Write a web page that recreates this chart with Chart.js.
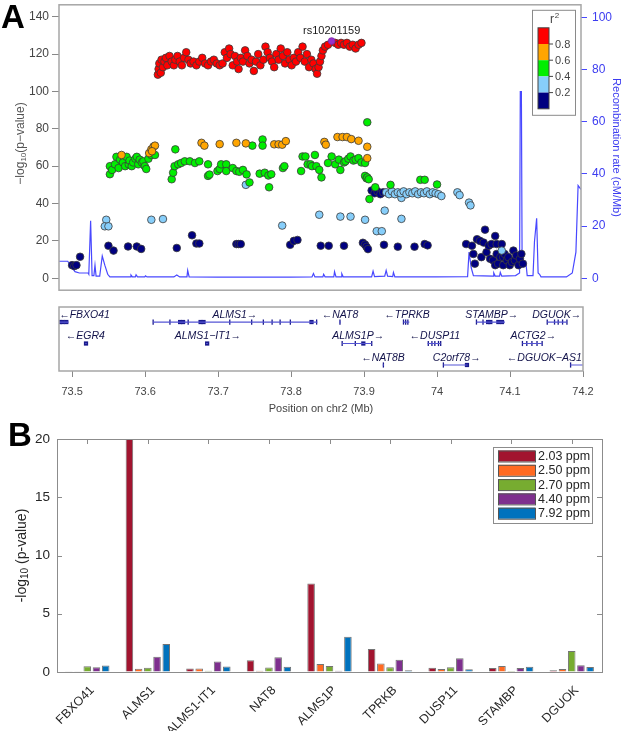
<!DOCTYPE html>
<html>
<head>
<meta charset="utf-8">
<script src="https://cdn.jsdelivr.net/npm/chart.js@4.4.0/dist/chart.umd.min.js"></script>
<style>
  body { margin: 0; background: #fff; width: 625px; height: 731px; position: relative; overflow: hidden;
         font-family: "Liberation Sans", Arial, sans-serif; }
  canvas { position: absolute; left: 0; }
  #chartA { top: 0; }
  #chartGenes { top: 300px; }
  #chartB { top: 420px; }
  .panel { position: absolute; font-weight: bold; font-size: 33px; line-height: 33px; color: #000; }
</style>
</head>
<body>
<canvas id="chartA" width="625" height="295"></canvas>
<canvas id="chartGenes" width="625" height="120"></canvas>
<canvas id="chartB" width="625" height="311"></canvas>
<div class="panel" style="left:1px;top:0px">A</div>
<div class="panel" style="left:8px;top:418px">B</div>
<script>
// ---------- Panel A: regional association ----------
const leftTicks = [0, 20, 40, 60, 80, 100, 120, 140];
const rightTicks = [0, 20, 40, 60, 80, 100];
const posTicks = [73.5, 73.6, 73.7, 73.8, 73.9, 74.0, 74.1, 74.2];

// [position (Mb), -log10 p] per r2 class
const snpNavy = [
  [73.500,7],[73.503,6.5],[73.506,7],[73.511,11.5],[73.550,17.4],[73.557,14.8],[73.577,17],[73.589,17],
  [73.595,15.7],[73.644,16.2],[73.665,23],[73.671,18.6],[73.675,18.6],[73.726,18.3],[73.729,18.3],
  [73.732,18.3],[73.800,17.9],[73.805,20],[73.810,20.5],[73.842,17.4],[73.853,17.4],[73.874,17.4],
  [73.900,19],[73.903,18],[73.905,16.8],[73.907,15.6],[73.929,17.9],[73.948,16.9],[73.971,16.9],
  [73.985,18.3],[73.989,17.6],
  [73.912,47],[73.916,45.5],[73.920,46.5],[73.924,45],[73.928,46],
  [74.042,18.3],[74.050,17.4],[74.052,13],[74.054,7.8],[74.057,20.9],[74.061,20],[74.063,11.3],
  [74.066,19.1],[74.068,26],[74.070,13.9],[74.073,17.4],[74.075,10.4],[74.077,18.3],[74.079,9.6],
  [74.082,22.6],[74.082,7],[74.084,13],[74.084,18.3],[74.086,7.8],[74.089,11.3],[74.091,18.3],
  [74.093,7],[74.093,11.3],[74.095,13],[74.098,9.6],[74.100,11.3],[74.102,7],[74.105,8.7],
  [74.107,14.8],[74.109,9.6],[74.111,12.2],[74.114,7],[74.116,10.4],[74.118,13],[74.120,7.8]
];
const snpLightBlue = [
  [73.547,31.3],[73.545,27.8],[73.550,27.8],[73.609,31.3],[73.625,31.7],[73.739,50],[73.789,28.2],
  [73.840,34],[73.869,33],[73.883,33],[73.903,31.3],[73.919,25.2],[73.926,25.2],[73.930,36.2],
  [73.953,31.8],[73.953,43],
  [73.932,46],[73.936,45],[73.940,46.5],[73.944,45],[73.948,46],[73.952,45.5],[73.956,46.5],
  [73.960,45],[73.964,46],[73.968,45.5],[73.972,46.5],[73.976,45],[73.980,46],[73.984,45.5],
  [73.988,46.5],[73.992,45],[73.996,46],[74.000,45.5],[74.004,45],[74.008,44],[74.030,46],
  [74.033,44.5],[74.046,40.5],[74.048,39],[74.091,14.8]
];
const snpGreen = [
  [73.552,55.7],[73.552,60],[73.555,58],[73.559,61],[73.561,65],[73.564,59],[73.566,63.5],[73.570,62],
  [73.573,60],[73.575,65],[73.578,61],[73.579,63],[73.582,60],[73.584,62],[73.587,64],[73.589,65],
  [73.591,61],[73.593,63.5],[73.596,62],[73.598,62.6],[73.600,60],[73.602,58.5],[73.605,64],
  [73.609,66],[73.614,66],
  [73.642,69],[73.637,53],[73.639,56.5],[73.641,60],[73.646,61],[73.650,61.7],[73.655,62.6],
  [73.662,62.6],[73.669,61.7],[73.675,62.6],[73.687,61],[73.687,54.8],[73.689,55.5],[73.700,57.4],
  [73.703,58.5],[73.705,61],[73.712,61],[73.712,57.4],[73.721,59],[73.726,57.4],[73.730,57],
  [73.735,58],[73.740,55.6],[73.744,51.3],[73.748,71],[73.762,74.3],[73.762,71],[73.758,56],
  [73.765,56.5],[73.770,55],[73.774,55.7],[73.771,48.7],[73.790,59],[73.792,60],[73.815,57.4],
  [73.817,65.2],[73.821,65.2],[73.824,61],[73.828,61],[73.830,60],[73.834,66],[73.836,60],
  [73.840,58],[73.843,54],[73.852,61.7],[73.857,65.2],[73.862,61],[73.867,63.5],[73.869,58],
  [73.874,62],[73.876,62.6],[73.880,64],[73.883,65.2],[73.887,63],[73.890,63.5],[73.894,64.3],
  [73.898,62],[73.903,61.7],[73.906,83.5],[73.903,54.8],[73.905,53.5],[73.906,54],[73.908,53],
  [73.917,48.7],[73.909,42.4],[73.938,50],[73.979,52.7],[73.985,52.7],[74.002,50.2]
];
const snpOrange = [
  [73.568,66],[73.606,67],[73.609,69],[73.612,70.5],[73.614,71],[73.610,68],[73.678,72.5],
  [73.682,71],[73.703,71.8],[73.726,72.5],[73.739,72.2],[73.778,71.7],[73.784,71.7],[73.789,71.5],
  [73.794,73.4],[73.847,73],[73.849,71.5],[73.865,75.6],[73.872,75.6],[73.878,75.6],[73.884,74.5],
  [73.894,73.6],[73.906,70.4],[73.906,64.3]
];
const snpRed = [
  [73.618,109],[73.619,112],[73.620,115],[73.622,110],[73.623,117],[73.625,113],[73.627,116],
  [73.629,118],[73.631,114],[73.634,119],[73.637,116],[73.640,114],[73.642,117],[73.645,119],
  [73.648,116],[73.651,114],[73.654,118],[73.657,121],[73.660,117],[73.663,115],[73.667,116],
  [73.671,114],[73.675,116],[73.679,118],[73.683,115],[73.687,114],[73.691,116],[73.695,117],
  [73.699,115],[73.703,114],[73.707,115],[73.710,121],[73.713,118],[73.716,123],[73.718,120],
  [73.721,114],[73.724,119],[73.727,116],[73.729,112],[73.732,118],[73.735,116],[73.738,122],
  [73.741,119],[73.744,115],[73.747,117],[73.750,111],[73.753,116],[73.756,120],[73.759,114],
  [73.763,117],[73.766,124],[73.769,121],[73.772,118],[73.775,116],[73.778,113],[73.781,120],
  [73.784,117],[73.787,123],[73.790,119],[73.793,115],[73.796,121],[73.799,117],[73.802,114],
  [73.805,118],[73.808,116],[73.811,121],[73.814,118],[73.817,124],[73.820,116],[73.823,120],
  [73.826,113],[73.829,117],[73.832,115],[73.835,112],[73.837,109.5],[73.839,113],[73.841,116],
  [73.843,119],[73.845,122],[73.848,124],[73.852,125],[73.862,126],[73.866,125],[73.870,126],
  [73.874,125],[73.878,126],[73.882,124],[73.886,125],[73.890,123],[73.894,125],[73.898,126]
];
const leadSnp = [73.857, 127];
const leadName = "rs10201159";

// recombination rate (cM/Mb)
const recPos = [73.482,73.494,73.500,73.504,73.510,73.522,73.523,73.5255,73.5275,73.530,73.5315,73.533,
  73.538,73.5415,73.545,73.549,73.552,73.580,73.581,73.583,73.587,73.588,73.590,73.600,73.601,73.603,
  73.640,73.644,73.648,73.658,73.659,73.661,73.700,73.760,73.800,73.830,73.832,73.834,73.845,73.846,
  73.848,73.860,73.861,73.863,73.870,73.871,73.873,73.912,73.914,73.916,73.930,73.932,73.934,73.941,
  73.942,73.944,74.000,74.044,74.046,74.049,74.052,74.079,74.080,74.082,74.088,74.089,74.091,74.110,
  74.1155,74.1165,74.118,74.119,74.124,74.126,74.134,74.136,74.139,74.141,74.143,74.145,74.180,74.188,
  74.193,74.196,74.2];
const recRate = [6.5,6.5,4,2.5,2,2,1.5,22,1,1,5,0.8,
  0.8,8.5,5,1.5,0.5,0.5,1.2,0.5,0.5,1.3,0.5,0.5,0.9,0.5,
  0.5,1.2,0.5,0.5,3,0.5,0.4,0.4,0.4,0.5,1.8,0.5,0.5,1.5,
  0.5,0.5,2.5,0.5,0.5,1.7,0.5,0.5,2.7,0.6,0.8,3,0.8,0.6,
  2.2,0.5,0.5,0.6,10,4,1,0.8,2,0.8,0.8,2.2,0.8,1,
  2,71.5,71.5,6.5,6.5,1,1,14,23,2,1.5,0.5,0.5,2,
  10,35.5,34];

const r2Colors = ["#000080", "#87CEFA", "#00EE00", "#FFA500", "#FF0000"];
const r2Labels = ["0.2", "0.4", "0.6", "0.8"];

// ---------- gene track ----------
const geneNames = ["FBXO41","ALMS1","NAT8","TPRKB","STAMBP","DGUOK","EGR4","ALMS1\u2212IT1","ALMS1P",
  "DUSP11","ACTG2","NAT8B","C2orf78","DGUOK\u2212AS1"];
const geneStrand = [-1,1,-1,-1,1,1,-1,1,1,-1,1,-1,1,-1];
const geneRow = [1,1,1,1,1,1,2,2,2,2,2,3,3,3];
const geneStart = [73.481,73.611,73.866,73.954,74.054,74.151,73.518,73.6835,73.870,73.987,74.117,73.9256,74.0087,74.1826];
const geneEnd = [73.495,73.836,73.868,73.962,74.093,74.178,73.520,73.686,73.9105,74.005,74.144,73.9274,74.042,74.2];
const geneLabelX = [73.517,73.723,73.867,73.959,74.075,74.164,73.518,73.686,73.892,73.997,74.132,73.926,74.027,74.147];
const exonThin = [[73.611,1],[73.634,1],[73.659,1],[73.716,1],[73.746,1],[73.762,1],[73.774,1],[73.785,1],
  [73.799,1],[73.835,1],[73.867,1],[73.954,1],[73.957,1],[73.960,1],[74.054,1],[74.063,1],[74.151,1],
  [74.161,1],[74.166,1],[74.172,1],[74.178,1],[73.870,2],[73.888,2],[73.9105,2],[73.988,2],[73.993,2],
  [73.997,2],[74.002,2],[74.005,2],[74.117,2],[74.123,2],[74.130,2],[74.137,2],[74.144,2],[73.9265,3],
  [74.0087,3],[74.183,3]];
const exonThick = [[73.483,1],[73.487,1],[73.492,1],[73.648,1],[73.652,1],[73.676,1],[73.680,1],[73.828,1],
  [74.070,1],[74.073,1],[74.084,1],[74.089,1],[73.519,2],[73.685,2],[73.899,2],[74.041,3]];

// ---------- Panel B: bar chart ----------
const genesB = ["FBXO41","ALMS1","ALMS1-IT1","NAT8","ALMS1P","TPRKB","DUSP11","STAMBP","DGUOK"];
const ppmLabels = ["2.03 ppm","2.50 ppm","2.70 ppm","4.40 ppm","7.92 ppm"];
const ppmColors = ["#A2142F","#FF6A22","#77AC30","#7E2F8E","#0072BD"];
const p203 = [0.06, 20, 0.3, 1.0, 7.6, 1.97, 0.37, 0.34, 0.14];
const p250 = [0.03, 0.28, 0.3, 0.1, 0.69, 0.74, 0.26, 0.51, 0.26];
const p270 = [0.5, 0.36, 0.1, 0.38, 0.51, 0.4, 0.4, 0.09, 1.8];
const p440 = [0.4, 1.31, 0.91, 1.26, 0.1, 1.06, 1.17, 0.34, 0.57];
const p792 = [0.56, 2.4, 0.47, 0.45, 3.03, 0.14, 0.23, 0.46, 0.43];

const FONT = "'Liberation Sans', Arial, sans-serif";
const toXY = arr => arr.map(p => ({ x: p[0], y: p[1] }));

function drawSubTitle(ctx, x, y, size, color, pre, sub, post) {
  ctx.save();
  ctx.fillStyle = color;
  ctx.textBaseline = "middle";
  const f1 = size + "px " + FONT, f2 = Math.round(size * 0.7) + "px " + FONT;
  ctx.font = f1; const w1 = ctx.measureText(pre).width, w3 = ctx.measureText(post).width;
  ctx.font = f2; const w2 = ctx.measureText(sub).width;
  const total = w1 + w2 + w3;
  ctx.translate(x, y);
  ctx.rotate(-Math.PI / 2);
  let cx = -total / 2;
  ctx.font = f1; ctx.textAlign = "left"; ctx.fillText(pre, cx, 0); cx += w1;
  ctx.font = f2; ctx.fillText(sub, cx, size * 0.25); cx += w2;
  ctx.font = f1; ctx.fillText(post, cx, 0);
  ctx.restore();
}

const panelAPlugin = {
  id: "panelA",
  afterDraw(chart) {
    const { ctx, chartArea: a, scales: { x, y } } = chart;
    ctx.save();
    ctx.strokeStyle = "#a6a6a6"; ctx.lineWidth = 1.5;
    ctx.strokeRect(a.left, a.top, a.right - a.left, a.bottom - a.top);
    // lead SNP label
    ctx.fillStyle = "#1a1a1a"; ctx.font = "11px " + FONT; ctx.textAlign = "center"; ctx.textBaseline = "bottom";
    ctx.fillText(leadName, x.getPixelForValue(leadSnp[0]), y.getPixelForValue(leadSnp[1]) - 5);
    // r2 legend
    const bx = a.right - 49, by = a.top + 5, bw = 43, bh = 105;
    ctx.fillStyle = "#fff"; ctx.fillRect(bx, by, bw, bh);
    ctx.strokeStyle = "#8a8a8a"; ctx.lineWidth = 1; ctx.strokeRect(bx + 0.5, by + 0.5, bw, bh);
    const sx = bx + 6, sy = by + 18, sw = 11, sh = 16.2;
    for (let i = 0; i < 5; i++) {
      ctx.fillStyle = r2Colors[4 - i];
      ctx.fillRect(sx, sy + i * sh, sw, sh);
    }
    ctx.strokeStyle = "#444"; ctx.strokeRect(sx, sy, sw, sh * 5);
    ctx.fillStyle = "#444"; ctx.font = "11px " + FONT; ctx.textAlign = "left"; ctx.textBaseline = "middle";
    for (let i = 0; i < 4; i++) {
      const ty = sy + (i + 1) * sh;
      ctx.beginPath(); ctx.moveTo(sx + sw, ty); ctx.lineTo(sx + sw + 4, ty); ctx.stroke();
      ctx.fillText(r2Labels[3 - i], sx + sw + 6, ty + 0.5);
    }
    ctx.font = "12px " + FONT; ctx.textAlign = "center";
    ctx.fillText("r", bx + 20, by + 10);
    ctx.font = "8px " + FONT; ctx.fillText("2", bx + 25, by + 6);
    ctx.restore();
    drawSubTitle(ctx, 21, (a.top + a.bottom) / 2 - 4, 12, "#555", "\u2212log", "10", "(p\u2212value)");
  }
};

const scatterSet = (data, color, order) => ({
  data: toXY(data), backgroundColor: color, borderColor: "#3a3a3a", borderWidth: 0.8,
  pointRadius: 3.8, order: order, yAxisID: "y"
});

new Chart(document.getElementById("chartA"), {
  type: "scatter",
  data: {
    datasets: [
      { type: "line", data: recPos.map((p, i) => ({ x: p, y: recRate[i] })), yAxisID: "y2",
        borderColor: "#4848ff", borderWidth: 1.2, pointRadius: 0, tension: 0, order: 10 },
      scatterSet(snpNavy, r2Colors[0], 6),
      scatterSet(snpLightBlue, r2Colors[1], 5),
      scatterSet(snpGreen, r2Colors[2], 4),
      scatterSet(snpOrange, r2Colors[3], 3),
      scatterSet(snpRed, r2Colors[4], 2),
      { data: [{ x: leadSnp[0], y: leadSnp[1] }], backgroundColor: "#9932CC", borderColor: "#7a28a8",
        borderWidth: 0.8, pointRadius: 3.4, order: 1, yAxisID: "y" }
    ]
  },
  options: {
    responsive: false, animation: false, events: [],
    layout: { padding: { top: 1, bottom: 1 } },
    plugins: { legend: { display: false }, tooltip: { enabled: false } },
    scales: {
      x: { type: "linear", min: 73.482, max: 74.2, display: false },
      y: {
        position: "left", min: -6.4, max: 146.4,
        afterBuildTicks: s => { s.ticks = leftTicks.map(v => ({ value: v })); },
        afterFit: s => { s.width = 59; s.paddingTop = 0; s.paddingBottom = 0; },
        grid: { drawOnChartArea: false, tickLength: 7, color: "#888" },
        border: { display: false },
        ticks: { color: "#444", font: { size: 12, family: FONT }, padding: 3 }
      },
      y2: {
        position: "right", min: -4.6, max: 104.8,
        afterBuildTicks: s => { s.ticks = rightTicks.map(v => ({ value: v })); },
        afterFit: s => { s.width = 44; s.paddingTop = 0; s.paddingBottom = 0; },
        grid: { drawOnChartArea: false, tickLength: 6, color: "#4848ff", offset: false },
        border: { display: false },
        ticks: { color: "#3c3cf0", font: { size: 12, family: FONT }, padding: 5 },
        title: { display: true, text: "Recombination rate (cM/Mb)", color: "#3c3cf0",
                 font: { size: 11, family: FONT }, padding: 2 }
      }
    }
  },
  plugins: [panelAPlugin]
});

// ---------- gene track chart ----------
const geneLine = [];
geneStart.forEach((s, i) => {
  geneLine.push({ x: s, y: geneRow[i] }, { x: geneEnd[i], y: geneRow[i] }, { x: geneEnd[i], y: null });
});

const genePlugin = {
  id: "genes",
  afterDraw(chart) {
    const { ctx, chartArea: a, scales: { x, y } } = chart;
    ctx.save();
    ctx.strokeStyle = "#a6a6a6"; ctx.lineWidth = 1.5;
    ctx.strokeRect(a.left, a.top, a.right - a.left, a.bottom - a.top);
    ctx.fillStyle = "#12124a"; ctx.font = "italic 10.5px " + FONT;
    ctx.textAlign = "center"; ctx.textBaseline = "middle";
    geneNames.forEach((n, i) => {
      const t = geneStrand[i] < 0 ? "\u2190" + n : n + "\u2192";
      ctx.fillText(t, x.getPixelForValue(geneLabelX[i]), y.getPixelForValue(geneRow[i]) - 7);
    });
    ctx.restore();
  }
};

new Chart(document.getElementById("chartGenes"), {
  type: "scatter",
  data: {
    datasets: [
      { type: "line", data: geneLine, borderColor: "#5555d5", borderWidth: 1.2, pointRadius: 0, spanGaps: false },
      { data: toXY(exonThin), pointStyle: "line", rotation: 90, pointRadius: 2.6,
        borderColor: "#1a1a8c", borderWidth: 1.3 },
      { data: toXY(exonThick), pointStyle: "rect", pointRadius: 3, backgroundColor: "#1a1a8c", borderWidth: 0 }
    ]
  },
  options: {
    responsive: false, animation: false, events: [],
    layout: { padding: { top: 7, left: 59, right: 42, bottom: 0 } },
    plugins: { legend: { display: false }, tooltip: { enabled: false } },
    scales: {
      y: { display: false, min: 0.3, max: 3.28, reverse: true },
      x: {
        type: "linear", min: 73.482, max: 74.2,
        afterBuildTicks: s => { s.ticks = posTicks.map(v => ({ value: v })); },
        afterFit: s => { s.height = 49; s.paddingLeft = 0; s.paddingRight = 0; },
        grid: { drawOnChartArea: false, tickLength: 6, color: "#888" },
        border: { display: false },
        ticks: { color: "#444", font: { size: 11, family: FONT }, padding: 8,
                 callback: v => String(Math.round(v * 10) / 10) },
        title: { display: true, text: "Position on chr2 (Mb)", color: "#444",
                 font: { size: 11, family: FONT }, padding: { top: 2, bottom: 4 } }
      }
    }
  },
  plugins: [genePlugin]
});

// ---------- Panel B ----------
const panelBPlugin = {
  id: "panelB",
  afterDraw(chart) {
    const { ctx, chartArea: a, scales: { x, y } } = chart;
    ctx.save();
    ctx.strokeStyle = "#8c8c8c"; ctx.lineWidth = 1;
    ctx.strokeRect(a.left + 0.5, a.top + 0.5, a.right - a.left, a.bottom - a.top);
    ctx.beginPath();
    y.ticks.forEach(t => {
      const py = Math.round(y.getPixelForValue(t.value)) + 0.5;
      ctx.moveTo(a.left, py); ctx.lineTo(a.left + 5, py);
      ctx.moveTo(a.right - 5, py); ctx.lineTo(a.right, py);
    });
    x.ticks.forEach((t, i) => {
      const px = Math.round(x.getPixelForTick(i)) + 0.5;
      ctx.moveTo(px, a.top); ctx.lineTo(px, a.top + 5);
    });
    ctx.stroke();
    // legend
    const bw = 99, bh = 76, bx = a.right - 10 - bw, by = a.top + 8;
    ctx.fillStyle = "#fff"; ctx.fillRect(bx, by, bw, bh);
    ctx.strokeStyle = "#8c8c8c"; ctx.strokeRect(bx + 0.5, by + 0.5, bw, bh);
    ctx.font = "12.5px " + FONT; ctx.textBaseline = "middle"; ctx.textAlign = "left";
    ppmLabels.forEach((l, i) => {
      const cy = by + 9 + i * 14.3;
      ctx.fillStyle = ppmColors[i]; ctx.fillRect(bx + 5, cy - 5.5, 37, 11);
      ctx.strokeStyle = "#555"; ctx.strokeRect(bx + 5.5, cy - 5, 37, 11);
      ctx.fillStyle = "#262626"; ctx.fillText(l, bx + 45, cy + 0.5);
    });
    ctx.restore();
    drawSubTitle(ctx, 22, (a.top + a.bottom) / 2, 14, "#262626", "-log", "10", " (p-value)");
  }
};

const barValues = [p203, p250, p270, p440, p792];
new Chart(document.getElementById("chartB"), {
  type: "bar",
  data: {
    labels: genesB,
    datasets: barValues.map((vals, i) => ({
      label: ppmLabels[i], data: vals, backgroundColor: ppmColors[i],
      borderColor: "rgba(70,70,70,0.75)", borderWidth: 1, barPercentage: 0.82, categoryPercentage: 0.76
    }))
  },
  options: {
    responsive: false, animation: false, events: [],
    layout: { padding: { top: 19, right: 23 } },
    plugins: { legend: { display: false }, tooltip: { enabled: false } },
    scales: {
      y: {
        min: 0, max: 20, ticks: { stepSize: 5, color: "#262626", font: { size: 13.5, family: FONT }, padding: 7 },
        afterFit: s => { s.width = 57; s.paddingTop = 0; s.paddingBottom = 0; },
        grid: { drawOnChartArea: false, drawTicks: false }, border: { display: false }
      },
      x: {
        afterFit: s => { s.height = 59; s.paddingLeft = 0; s.paddingRight = 0; },
        grid: { display: false }, border: { display: false },
        ticks: { maxRotation: 45, minRotation: 45, color: "#262626", font: { size: 12.5, family: FONT },
                 padding: 3, labelOffset: 5 }
      }
    }
  },
  plugins: [panelBPlugin]
});
</script>
</body>
</html>
